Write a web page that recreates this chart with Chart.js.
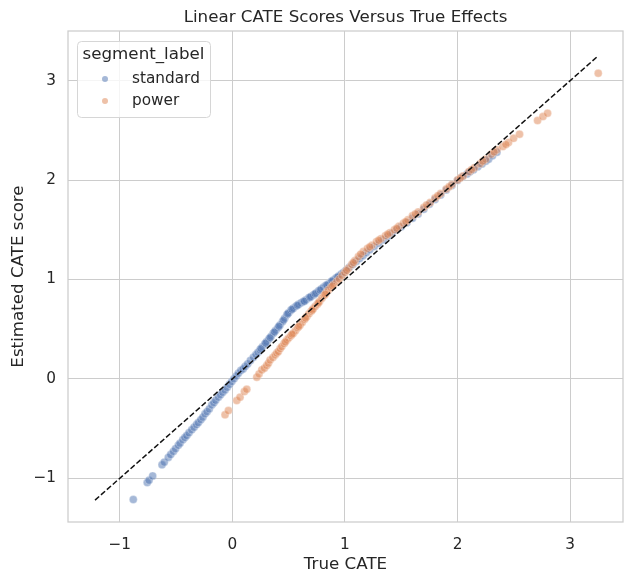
<!DOCTYPE html>
<html>
<head>
<meta charset="utf-8">
<script src="https://cdn.jsdelivr.net/npm/chart.js@4.4.1/dist/chart.umd.min.js"></script>
<style>
html,body{margin:0;padding:0;background:#fff;}
#wrap{width:634px;height:584px;}
</style>
</head>
<body>
<div id="wrap"><canvas id="c" width="634" height="584"></canvas></div>
<script>
// ---- data ----
const seriesNames = ["standard", "power"];
const standardTrue = [-0.88,-0.756,-0.74,-0.708,-0.625,-0.605,-0.569,-0.548,-0.524,-0.505,-0.48,-0.465,-0.44,-0.422,-0.405,-0.385,-0.361,-0.34,-0.318,-0.302,-0.28,-0.262,-0.243,-0.225,-0.205,-0.183,-0.165,-0.148,-0.124,-0.105,-0.085,-0.065,-0.045,-0.025,-0.005,0.015,0.035,0.053,0.075,0.095,0.113,0.135,0.16,0.187,0.21,0.228,0.246,0.268,0.288,0.306,0.325,0.345,0.364,0.385,0.405,0.424,0.445,0.465,0.484,0.5,0.52,0.542,0.565,0.59,0.612,0.631,0.655,0.68,0.7,0.72,0.745,0.765,0.79,0.809,0.83,0.855,0.875,0.898,0.92,0.945,0.965,0.987,1.01,1.04,1.07,1.1,1.13,1.16,1.19,1.22,1.26,1.3,1.34,1.38,1.42,1.46,1.5,1.55,1.6,1.65,1.7,1.75,1.8,1.85,1.9,1.95,2.0,2.04,2.084,2.11,2.142,2.18,2.217,2.25,2.276,2.31,2.35,
  0.255,0.296,0.335,0.374,0.414,0.455,0.492,0.53,0.578,0.64,0.69,0.735,0.78,0.84,0.885,0.935];
const standardEst = [-1.214,-1.043,-1.02,-0.976,-0.865,-0.838,-0.79,-0.762,-0.73,-0.703,-0.668,-0.647,-0.612,-0.59,-0.57,-0.543,-0.513,-0.487,-0.46,-0.44,-0.41,-0.385,-0.352,-0.33,-0.302,-0.262,-0.24,-0.215,-0.184,-0.16,-0.135,-0.111,-0.085,-0.055,-0.027,0.0,0.03,0.057,0.085,0.1,0.124,0.15,0.185,0.218,0.245,0.268,0.292,0.322,0.35,0.375,0.402,0.43,0.46,0.49,0.515,0.543,0.575,0.61,0.644,0.665,0.69,0.711,0.73,0.75,0.765,0.778,0.795,0.815,0.83,0.845,0.865,0.883,0.905,0.922,0.94,0.958,0.975,0.996,1.015,1.035,1.052,1.07,1.093,1.122,1.15,1.18,1.21,1.24,1.27,1.298,1.332,1.365,1.4,1.432,1.465,1.5,1.53,1.572,1.615,1.66,1.707,1.757,1.805,1.85,1.9,1.945,1.995,2.03,2.062,2.085,2.103,2.135,2.163,2.19,2.21,2.245,2.28,
  0.305,0.36,0.415,0.472,0.53,0.592,0.655,0.7,0.74,0.782,0.822,0.857,0.893,0.945,0.984,1.026];
const powerTrue = [-0.065,-0.035,0.039,0.068,0.107,0.128,0.217,0.237,0.261,0.284,0.305,0.32,0.335,0.36,0.38,0.395,0.409,0.425,0.439,0.46,0.484,0.5,0.52,0.542,0.56,0.58,0.602,0.62,0.64,0.661,0.68,0.7,0.718,0.735,0.755,0.775,0.795,0.815,0.835,0.853,0.875,0.9,0.928,0.95,0.975,1.0,1.03,1.06,1.09,1.12,1.164,1.2,1.24,1.28,1.32,1.36,1.4,1.44,1.48,1.52,1.56,1.6,1.65,1.7,1.757,1.8,1.85,1.9,1.95,2.0,2.05,2.1,2.15,2.2,2.25,2.3,2.35,2.403,2.453,2.498,2.551,2.711,2.759,2.8,3.25,
  0.47,0.53,0.59,0.65,0.71,0.765,0.825,0.89,1.015,1.075,1.14,1.22,1.3,1.38,1.46,1.54,1.625,1.725,1.825,1.925,2.025,2.125,2.225,2.325,2.43];
const powerEst = [-0.362,-0.319,-0.218,-0.184,-0.128,-0.104,0.017,0.05,0.09,0.108,0.135,0.158,0.19,0.215,0.241,0.26,0.275,0.305,0.325,0.355,0.392,0.41,0.435,0.46,0.485,0.515,0.543,0.568,0.598,0.627,0.655,0.68,0.705,0.727,0.752,0.78,0.812,0.84,0.868,0.895,0.92,0.95,0.979,1.005,1.04,1.07,1.11,1.15,1.19,1.23,1.281,1.312,1.345,1.38,1.41,1.44,1.47,1.5,1.535,1.565,1.6,1.64,1.68,1.725,1.775,1.82,1.865,1.91,1.955,2.0,2.04,2.085,2.125,2.165,2.21,2.26,2.304,2.337,2.377,2.42,2.462,2.599,2.639,2.673,3.075,
  0.372,0.45,0.528,0.612,0.692,0.765,0.852,0.935,1.09,1.17,1.255,1.328,1.395,1.455,1.515,1.582,1.66,1.75,1.843,1.932,2.02,2.105,2.19,2.282,2.358];
const refLine = [-1.22, 3.25];
const xTicks = [-1, 0, 1, 2, 3];
const yTicks = [-1, 0, 1, 2, 3];
const titleText = "Linear CATE Scores Versus True Effects";
const xLabel = "True CATE";
const yLabel = "Estimated CATE score";
const legendTitle = "segment_label";

// ---- styles ----
const FONT = "'DejaVu Sans', sans-serif";
const TXT = "#262626";
const GRID = "#cccccc";
const colors = {standard: "rgba(76,114,176,0.5)", power: "rgba(221,132,82,0.5)"};

const toPts = (xs, ys) => xs.map((x, i) => ({x: x, y: ys[i]}));
const fmt = v => (v < 0 ? "\u2212" + Math.abs(v) : String(v));

const decor = {
  id: "decor",
  beforeDatasetsDraw(chart) {
    const {ctx, chartArea: a} = chart;
    ctx.save();
    ctx.strokeStyle = GRID;
    ctx.lineWidth = 1.25;
    ctx.strokeRect(a.left, a.top, a.right - a.left, a.bottom - a.top);
    ctx.restore();
  },
  afterDraw(chart) {
    const {ctx, chartArea: a} = chart;
    ctx.save();
    ctx.fillStyle = TXT;
    ctx.textAlign = "center";
    ctx.textBaseline = "middle";
    ctx.font = "16.7px " + FONT;
    ctx.fillText(titleText, (a.left + a.right) / 2, 18);
    ctx.fillText(xLabel, (a.left + a.right) / 2, 565);
    ctx.save();
    ctx.translate(19, (a.top + a.bottom) / 2);
    ctx.rotate(-Math.PI / 2);
    ctx.fillText(yLabel, 0, 0);
    ctx.restore();
    // legend
    const lx = 77, ly = 41, lw = 133, lh = 76;
    ctx.beginPath();
    if (ctx.roundRect) ctx.roundRect(lx + 0.5, ly + 0.5, lw, lh, 4); else ctx.rect(lx + 0.5, ly + 0.5, lw, lh);
    ctx.fillStyle = "rgba(255,255,255,0.8)";
    ctx.fill();
    ctx.strokeStyle = "#d6d6d6";
    ctx.lineWidth = 1;
    ctx.stroke();
    ctx.fillStyle = TXT;
    ctx.textAlign = "center";
    ctx.font = "16.7px " + FONT;
    ctx.fillText(legendTitle, lx + lw / 2, 55);
    ctx.textAlign = "left";
    ctx.font = "15.3px " + FONT;
    const rows = [79, 101];
    seriesNames.forEach((n, i) => {
      ctx.beginPath();
      ctx.arc(105, rows[i], 3, 0, Math.PI * 2);
      ctx.fillStyle = colors[n];
      ctx.fill();
      ctx.fillStyle = TXT;
      ctx.fillText(n, 132, rows[i]);
    });
    ctx.restore();
  }
};

new Chart(document.getElementById("c"), {
  type: "scatter",
  data: {
    datasets: [
      {
        type: "line", label: "y=x", data: toPts(refLine, refLine),
        borderColor: "#111", borderWidth: 1.5, borderDash: [5.5, 2.4],
        pointRadius: 0, fill: false, order: -1
      },
      {
        label: seriesNames[0], data: toPts(standardTrue, standardEst),
        backgroundColor: colors.standard, borderColor: "rgba(255,255,255,0.5)",
        borderWidth: 0.6, pointRadius: 4, order: 1
      },
      {
        label: seriesNames[1], data: toPts(powerTrue, powerEst),
        backgroundColor: colors.power, borderColor: "rgba(255,255,255,0.5)",
        borderWidth: 0.6, pointRadius: 4, order: 0
      }
    ]
  },
  options: {
    responsive: false,
    animation: false,
    layout: {padding: {top: 31, right: 11, left: 0, bottom: 0}},
    plugins: {legend: {display: false}, tooltip: {enabled: false}, title: {display: false}},
    scales: {
      x: {
        type: "linear", min: -1.46, max: 3.47,
        afterBuildTicks: s => { s.ticks = xTicks.map(v => ({value: v})); },
        afterFit: s => { s.height = 62; },
        ticks: {callback: v => fmt(v), color: TXT, font: {family: FONT, size: 15.3}, padding: 14, maxRotation: 0},
        grid: {color: GRID, lineWidth: 1, drawTicks: false},
        border: {display: false}
      },
      y: {
        type: "linear", min: -1.44, max: 3.50,
        afterBuildTicks: s => { s.ticks = yTicks.map(v => ({value: v})); },
        afterFit: s => { s.width = 68; },
        ticks: {callback: v => fmt(v), color: TXT, font: {family: FONT, size: 15.3}, padding: 12},
        grid: {color: GRID, lineWidth: 1, drawTicks: false},
        border: {display: false}
      }
    }
  },
  plugins: [decor]
});
</script>
</body>
</html>
